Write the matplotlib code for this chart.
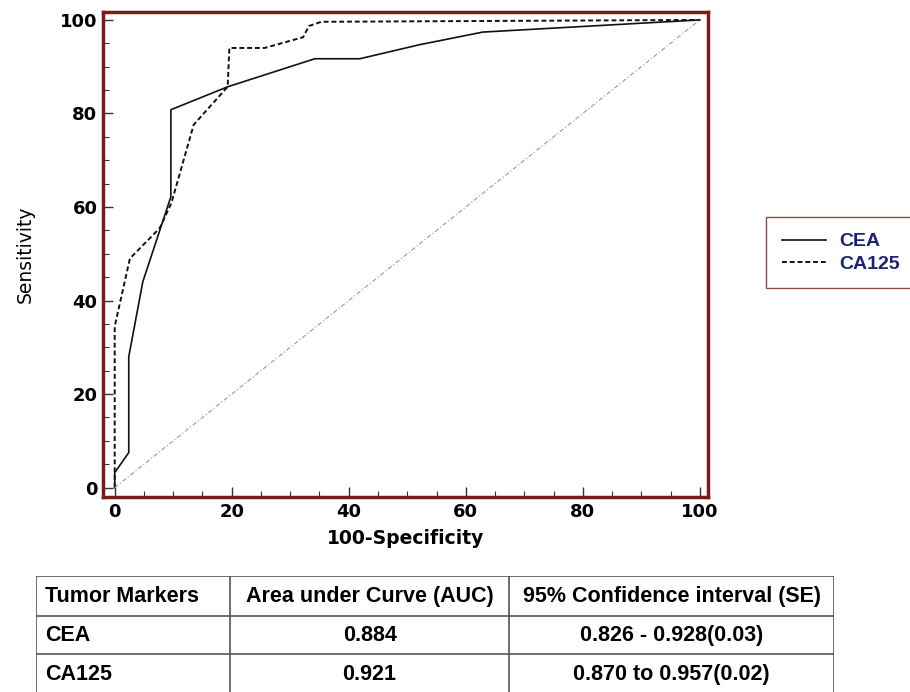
import matplotlib
matplotlib.use("Agg")
from matplotlib import pyplot as plt
from matplotlib.ticker import MultipleLocator

plt.rcParams['font.family'] = ['DejaVu Sans']

# ROC points
cea_x = [0, 0, 2.4, 2.4, 4.8, 7.7, 9.6, 9.6, 19.3, 34.2, 41.9, 52.1, 62.9, 100]
cea_y = [0, 3.2, 7.5, 28, 44, 55, 62.2, 80.8, 85.7, 91.7, 91.7, 94.7, 97.4, 100]

ca125_x = [0, 0, 2.6, 7.7, 9.7, 13.5, 19.3, 19.6, 25.6, 32.2, 33.2, 35.3, 100]
ca125_y = [0, 34.5, 49, 55.5, 60.9, 77.6, 85.7, 94, 94, 96.3, 98.7, 99.6, 100]

ref_x = [0, 100]
ref_y = [0, 100]

col_labels = ["Tumor Markers", "Area under Curve (AUC)", "95% Confidence interval (SE)"]
markers = ["CEA", "CA125"]
auc = ["0.884", "0.921"]
ci = ["0.826 - 0.928(0.03)", "0.870 to 0.957(0.02)"]

maroon = "#7a1c1c"
navy = "#1c2370"
arial = ["Liberation Sans", "DejaVu Sans"]

fig = plt.figure(figsize=(9.1, 6.92), dpi=100)
ax = fig.add_axes([0.1132, 0.2818, 0.6648, 0.7009])

ax.plot(cea_x, cea_y, color="#111111", lw=1.2, label="CEA")
ax.plot(ca125_x, ca125_y, color="#111111", lw=1.4, ls=(0, (2.5, 1.5)), label="CA125")
ax.plot(ref_x, ref_y, color="#999999", lw=0.8, ls=(0, (4, 2, 1, 2)))

ax.set_xlim(-2, 101.4)
ax.set_ylim(-2, 101.7)
ax.xaxis.set_major_locator(MultipleLocator(20))
ax.xaxis.set_minor_locator(MultipleLocator(5))
ax.yaxis.set_major_locator(MultipleLocator(20))
ax.yaxis.set_minor_locator(MultipleLocator(5))
ax.tick_params(which="both", direction="in", top=False, right=False, color="#333333")
ax.tick_params(which="major", length=7, width=1, labelsize=13, pad=4)
ax.tick_params(which="minor", length=4, width=0.8)
for lab in ax.get_xticklabels() + ax.get_yticklabels():
    lab.set_fontweight("bold")
for s in ax.spines.values():
    s.set_color(maroon)
    s.set_linewidth(2.5)

ax.set_xlabel("100-Specificity", fontsize=13.5, fontweight="bold", labelpad=6)
ax.set_ylabel("Sensitivity", fontsize=13.5, labelpad=18)

leg = fig.legend(loc="upper left", bbox_to_anchor=(0.842, 0.686), fancybox=False,
                 edgecolor=maroon, handlelength=2.3, handletextpad=0.65,
                 borderpad=0.8, labelspacing=0.25, borderaxespad=0,
                 prop={"family": arial, "size": 14, "weight": "bold"})
leg.get_frame().set_linewidth(1.0)
for t in leg.get_texts():
    t.set_color(navy)

# table under the chart
tax = fig.add_axes([0.0396, -0.0029, 0.877, 0.1705])
tax.set_xlim(0, 798)
tax.set_ylim(118, 0)
tax.axis("off")
col_edges = [0, 194, 473, 798]
row_edges = [0, 40, 78, 118]
for y in row_edges[:-1]:
    tax.plot([0, 798], [y, y], color="#555555", lw=1.2)
for x in col_edges:
    tax.plot([x, x], [0, 118], color="#555555", lw=1.2)

tfont = {"family": arial, "weight": "bold", "size": 15.5}
rows = [col_labels] + [[markers[i], auc[i], ci[i]] for i in range(len(markers))]
for r, row in enumerate(rows):
    yc = (row_edges[r] + row_edges[r + 1]) / 2
    for c, txt in enumerate(row):
        if c == 0:
            tax.text(col_edges[0] + 9, yc, txt, ha="left", va="center", **tfont)
        else:
            xc = (col_edges[c] + col_edges[c + 1]) / 2
            tax.text(xc, yc, txt, ha="center", va="center", **tfont)

fig.savefig("out.png", dpi=100)
